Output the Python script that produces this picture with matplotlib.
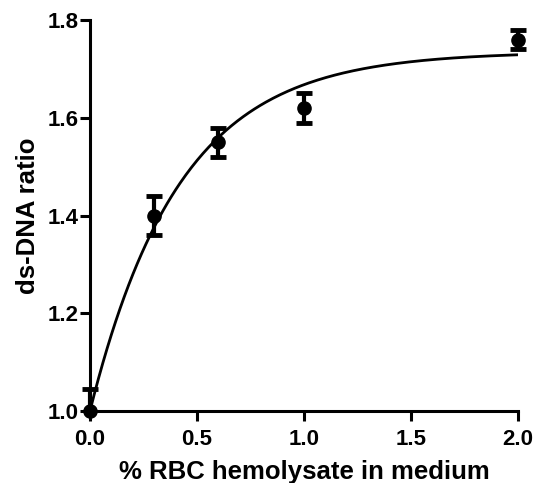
''' plot.py - dose response of ds-DNA ratio to RBC hemolysate '''
import numpy as np
import matplotlib
import matplotlib.pyplot as plt
from matplotlib.transforms import Bbox, TransformedBbox

matplotlib.use('Agg')

# measured points
hemolysate = [0.0, 0.3, 0.6, 1.0, 2.0]
dna_ratio = [1.00, 1.40, 1.55, 1.62, 1.76]
dna_err = [0.045, 0.04, 0.03, 0.03, 0.02]

# one-phase association fit: y = y0 + plateau * (1 - exp(-k x))
fit_y0 = 1.0
fit_plateau = 0.735
fit_k = 2.39

x_ticks = [0.0, 0.5, 1.0, 1.5, 2.0]
y_ticks = [1.0, 1.2, 1.4, 1.6, 1.8]


def main():
    ''' draw and save the chart '''
    plt.rcParams['font.family'] = ['Liberation Sans', 'DejaVu Sans']
    plt.rcParams['font.weight'] = 'bold'

    fig = plt.figure(figsize=(5.34, 4.83), dpi=100)
    ax = fig.add_axes([0.1685, 0.149, 0.8015, 0.8096])

    xs = np.linspace(0, 2.0, 300)
    ax.plot(xs, fit_y0 + fit_plateau * (1 - np.exp(-fit_k * xs)),
            color='black', lw=2.0, zorder=2)

    # error bars hidden only below the x axis, markers free on the spines
    _, caps, bars = ax.errorbar(hemolysate, dna_ratio, yerr=dna_err,
                                fmt='none', ecolor='black', elinewidth=3,
                                capsize=6, capthick=3.5, zorder=3)
    clip = TransformedBbox(Bbox([[-0.3, 1.0], [2.3, 2.0]]), ax.transData)
    for art in list(caps) + list(bars):
        art.set_clip_on(True)
        art.set_clip_box(clip)
    ax.plot(hemolysate, dna_ratio, 'o', color='black', ms=9.5,
            clip_on=False, zorder=4)

    ax.set_xlim(0, 2.0)
    ax.set_ylim(1.0, 1.8)
    ax.set_xticks(x_ticks)
    ax.set_yticks(y_ticks)
    ax.set_xticklabels([f'{v:.1f}' for v in x_ticks])
    ax.set_yticklabels([f'{v:.1f}' for v in y_ticks])

    for side in ['top', 'right']:
        ax.spines[side].set_visible(False)
    for side in ['left', 'bottom']:
        ax.spines[side].set_linewidth(2.2)
    ax.tick_params(width=2.2, length=7, labelsize=16)
    ax.tick_params(axis='x', pad=6)
    ax.tick_params(axis='y', pad=1)

    ax.set_xlabel('% RBC hemolysate in medium', fontsize=18.5,
                  fontweight='bold', labelpad=7)
    ax.set_ylabel('ds-DNA ratio', fontsize=18.5, fontweight='bold',
                  labelpad=6)

    fig.savefig('out.png', dpi=100)


if __name__ == '__main__':
    main()
